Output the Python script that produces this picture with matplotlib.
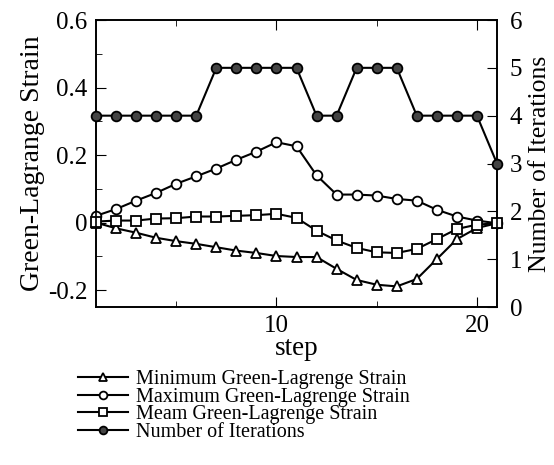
import numpy as np
import matplotlib
matplotlib.use("Agg")
import matplotlib.pyplot as plt
from matplotlib.ticker import MultipleLocator, FixedLocator

matplotlib.rc('font', family='serif', serif=['Liberation Serif', 'DejaVu Serif'])
matplotlib.rcParams['xtick.direction'] = 'in'
matplotlib.rcParams['ytick.direction'] = 'in'

steps = list(range(1, 22))
min_strain = [0.0, -0.017, -0.03, -0.045, -0.055, -0.063, -0.073, -0.083, -0.09, -0.099,
              -0.102, -0.102, -0.137, -0.17, -0.184, -0.189, -0.167, -0.108, -0.049, -0.016, -0.002]
max_strain = [0.02, 0.04, 0.065, 0.088, 0.115, 0.137, 0.16, 0.186, 0.21, 0.238,
              0.226, 0.14, 0.083, 0.083, 0.08, 0.07, 0.065, 0.038, 0.018, 0.006, -0.002]
mean_strain = [0.003, 0.006, 0.006, 0.012, 0.013, 0.018, 0.018, 0.02, 0.022, 0.026,
               0.014, -0.024, -0.053, -0.075, -0.088, -0.09, -0.078, -0.049, -0.019, -0.006, -0.002]
iterations = [4, 4, 4, 4, 4, 4, 5, 5, 5, 5, 5, 4, 4, 5, 5, 5, 4, 4, 4, 4, 3]

labels = ['Minimum Green-Lagrenge Strain', 'Maximum Green-Lagrenge Strain',
          'Meam Green-Lagrenge Strain', 'Number of Iterations']

fig = plt.figure(figsize=(5.54, 4.65), dpi=100)
ax = fig.add_axes([96 / 554, 158 / 465, 401 / 554, 287 / 465])
ax2 = ax.twinx()

kw = dict(color='black', lw=1.5, markersize=7, markerfacecolor='white',
          markeredgecolor='black', markeredgewidth=1.3, clip_on=False, zorder=3)
l1, = ax.plot(steps, min_strain, marker='^', **kw)
l2, = ax.plot(steps, max_strain, marker='o', **kw)
l3, = ax.plot(steps, mean_strain, marker='s', **kw)
kw4 = dict(kw)
kw4['markerfacecolor'] = '#444444'
l4, = ax2.plot(steps, iterations, marker='o', **kw4)

ax.set_xlim(1, 21)
ax.set_ylim(-0.25, 0.6)
ax2.set_ylim(0, 6)

ax.xaxis.set_major_locator(FixedLocator([10, 20]))
ax.xaxis.set_minor_locator(FixedLocator([5, 15]))
ax.yaxis.set_major_locator(FixedLocator([-0.2, 0, 0.2, 0.4, 0.6]))
ax.yaxis.set_minor_locator(FixedLocator([-0.1, 0.1, 0.3, 0.5]))
ax.set_yticklabels(['-0.2', '0', '0.2', '0.4', '0.6'])
ax2.yaxis.set_major_locator(MultipleLocator(1))

ax.tick_params(which='both', top=True, labelsize=18, pad=6)
ax.tick_params(which='major', length=7)
ax.tick_params(which='minor', length=4)
ax2.tick_params(labelsize=18, length=7, pad=9)

for a in (ax, ax2):
    for s in a.spines.values():
        s.set_linewidth(1.2)

ax.set_xlabel('step', fontsize=19.5, labelpad=-1)
ax.set_ylabel('Green-Lagrange Strain', fontsize=20, labelpad=2)
ax2.set_ylabel('Number of Iterations', fontsize=18.5, labelpad=5)

fig.legend([l1, l2, l3, l4], labels, loc='upper left', bbox_to_anchor=(78 / 554, 1 - 370 / 465),
           frameon=False, fontsize=14.5, handlelength=2.5, handletextpad=0.4,
           labelspacing=-0.08, borderaxespad=0, borderpad=0, markerscale=0.8)

fig.savefig('out.png', dpi=100)
